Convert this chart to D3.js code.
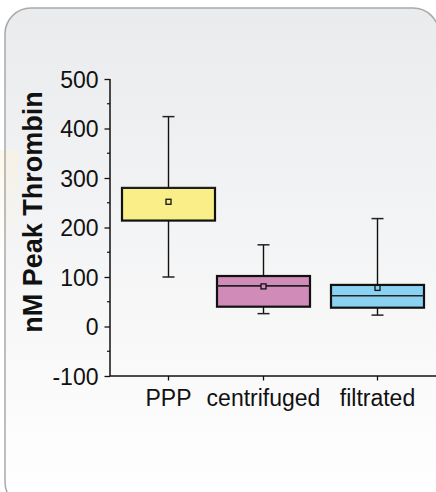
<!DOCTYPE html>
<html>
<head>
<meta charset="utf-8">
<script src="https://cdn.jsdelivr.net/npm/d3@7"></script>
<style>
  html, body { margin: 0; padding: 0; background: #fff; }
  svg { display: block; font-family: Arial, 'Liberation Sans', sans-serif; }
</style>
</head>
<body>
<script>
const categories = ['PPP', 'centrifuged', 'filtrated'];
const whiskerLow = [100, 26, 23];
const q1 = [214, 40, 38];
const median = [280, 82, 62];
const q3 = [280, 102, 84];
const whiskerHigh = [424, 165, 218];
const means = [252, 81, 78];
const yTicks = [-100, 0, 100, 200, 300, 400, 500];
const boxColors = ['#f9ee88', '#d08bb8', '#89d2f1'];

const width = 436;
const height = 492;
const boxWidth = 93;

const svg = d3.select('body')
  .append('svg')
  .attr('width', width)
  .attr('height', height);

const defs = svg.append('defs');
const grad = defs.append('linearGradient')
  .attr('id', 'panelFill')
  .attr('x1', 0).attr('y1', 0).attr('x2', 0).attr('y2', 1);
grad.append('stop').attr('offset', '0%').attr('stop-color', '#eaebed');
grad.append('stop').attr('offset', '100%').attr('stop-color', '#ffffff');

const glow = defs.append('linearGradient')
  .attr('id', 'glowFill')
  .attr('x1', 0).attr('y1', 0).attr('x2', 0).attr('y2', 1);
glow.append('stop').attr('offset', '0%').attr('stop-color', '#fdf3d8').attr('stop-opacity', 0.8);
glow.append('stop').attr('offset', '100%').attr('stop-color', '#fdf3d8').attr('stop-opacity', 0);

// faint glow behind the left edge of the panel
svg.append('rect')
  .attr('x', 0).attr('y', 150)
  .attr('width', 18).attr('height', 110)
  .attr('fill', 'url(#glowFill)')
  .attr('opacity', 0.7);

svg.append('rect')
  .attr('x', 5).attr('y', 8)
  .attr('width', 434).attr('height', 500)
  .attr('rx', 26).attr('ry', 26)
  .attr('fill', 'url(#panelFill)')
  .attr('stroke', '#a9a9a9')
  .attr('stroke-width', 1.5);

svg.append('rect')
  .attr('x', 6).attr('y', 150)
  .attr('width', 12).attr('height', 100)
  .attr('fill', 'url(#glowFill)')
  .attr('opacity', 0.6);

const y = d3.scaleLinear()
  .domain([-100, 500])
  .range([376, 79]);

// category centres are not evenly spaced in the original figure
const x = d3.scaleOrdinal()
  .domain(categories)
  .range([168.5, 263.5, 377.5]);

const axisX0 = 110;

// y axis
const yAxis = svg.append('g')
  .attr('transform', `translate(${axisX0},0)`)
  .call(d3.axisLeft(y)
    .tickValues(yTicks)
    .tickSize(5.5)
    .tickPadding(6)
    .tickFormat((d) => String(d)));
yAxis.select('.domain').attr('stroke', '#111').attr('stroke-width', 1.5)
  .attr('d', `M0,${y(500)}V${y(-100)}`);
yAxis.selectAll('.tick line').attr('stroke', '#111').attr('stroke-width', 1.3);
yAxis.selectAll('.tick text')
  .attr('font-size', 23)
  .attr('fill', '#111')
  .attr('font-family', 'Arial, Liberation Sans, sans-serif')
  .attr('dy', '0.36em');

// minor ticks
svg.append('g')
  .selectAll('line')
  .data(d3.range(-50, 500, 100))
  .join('line')
  .attr('x1', axisX0 - 3).attr('x2', axisX0)
  .attr('y1', (d) => y(d)).attr('y2', (d) => y(d))
  .attr('stroke', '#111').attr('stroke-width', 1.2);

// x axis
const xAxisG = svg.append('g')
  .attr('transform', `translate(0,${y(-100)})`);
xAxisG.append('line')
  .attr('x1', axisX0).attr('x2', width)
  .attr('stroke', '#111').attr('stroke-width', 1.5);
xAxisG.selectAll('.xtick')
  .data(categories)
  .join('line')
  .attr('class', 'xtick')
  .attr('x1', (d) => x(d)).attr('x2', (d) => x(d))
  .attr('y1', 0).attr('y2', 4.5)
  .attr('stroke', '#111').attr('stroke-width', 1.3);
xAxisG.selectAll('.xlabel')
  .data(categories)
  .join('text')
  .attr('class', 'xlabel')
  .attr('x', (d) => x(d))
  .attr('y', 30)
  .attr('text-anchor', 'middle')
  .attr('font-size', 23)
  .attr('fill', '#111')
  .text((d) => d);

// y axis title
svg.append('text')
  .attr('transform', 'translate(42,212) rotate(-90)')
  .attr('text-anchor', 'middle')
  .attr('font-size', 27)
  .attr('font-weight', 'bold')
  .attr('fill', '#111')
  .text('nM Peak Thrombin');

const rows = categories.map((c, i) => ({
  name: c,
  lo: whiskerLow[i],
  q1: q1[i],
  med: median[i],
  q3: q3[i],
  hi: whiskerHigh[i],
  mean: means[i],
  color: boxColors[i]
}));

const groups = svg.append('g')
  .selectAll('g')
  .data(rows)
  .join('g');

// whiskers
groups.append('line')
  .attr('x1', (d) => x(d.name)).attr('x2', (d) => x(d.name))
  .attr('y1', (d) => y(d.hi)).attr('y2', (d) => y(d.q3))
  .attr('stroke', '#111').attr('stroke-width', 1.4);
groups.append('line')
  .attr('x1', (d) => x(d.name)).attr('x2', (d) => x(d.name))
  .attr('y1', (d) => y(d.q1)).attr('y2', (d) => y(d.lo))
  .attr('stroke', '#111').attr('stroke-width', 1.4);

// caps with small cross markers
['lo', 'hi'].forEach((k) => {
  groups.append('line')
    .attr('x1', (d) => x(d.name) - 6).attr('x2', (d) => x(d.name) + 6)
    .attr('y1', (d) => y(d[k])).attr('y2', (d) => y(d[k]))
    .attr('stroke', '#222').attr('stroke-width', 1.5);
  groups.append('path')
    .attr('d', d3.symbol(d3.symbolTimes, 20))
    .attr('transform', (d) => `translate(${x(d.name)},${y(d[k])})`)
    .attr('fill', '#111');
});

// boxes
groups.append('rect')
  .attr('x', (d) => x(d.name) - boxWidth / 2)
  .attr('width', boxWidth)
  .attr('y', (d) => y(d.q3))
  .attr('height', (d) => y(d.q1) - y(d.q3))
  .attr('fill', (d) => d.color)
  .attr('stroke', '#111')
  .attr('stroke-width', 2.2);

// medians
groups.append('line')
  .attr('x1', (d) => x(d.name) - boxWidth / 2).attr('x2', (d) => x(d.name) + boxWidth / 2)
  .attr('y1', (d) => y(d.med)).attr('y2', (d) => y(d.med))
  .attr('stroke', '#222').attr('stroke-width', 1.6);

// means
groups.append('rect')
  .attr('x', (d) => x(d.name) - 2.5)
  .attr('y', (d) => y(d.mean) - 2.5)
  .attr('width', 5).attr('height', 5)
  .attr('fill', (d) => d.color)
  .attr('stroke', '#111')
  .attr('stroke-width', 1.3);
</script>
</body>
</html>
